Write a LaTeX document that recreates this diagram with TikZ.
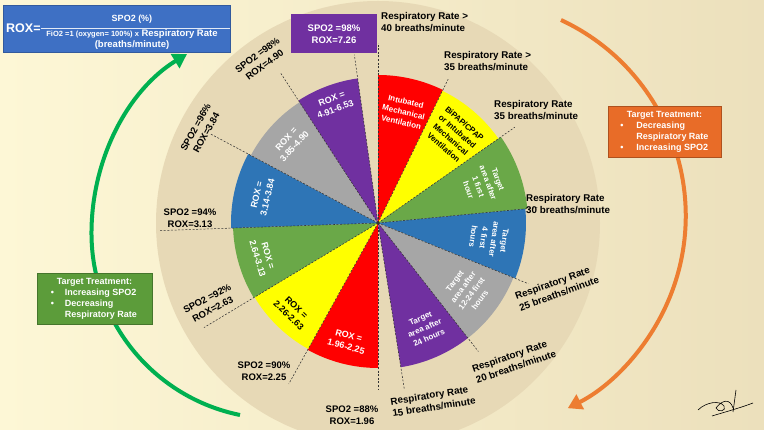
\documentclass[tikz,border=0pt]{standalone}
\usepackage{fontspec}
\setmainfont{Liberation Sans}
\usetikzlibrary{positioning,arrows.meta,shadows}

\definecolor{bgleft}{RGB}{253,247,214}
\definecolor{bgright}{RGB}{236,224,188}
\definecolor{disc}{RGB}{231,217,182}
\definecolor{wred}{RGB}{255,0,0}
\definecolor{wyellow}{RGB}{255,255,0}
\definecolor{wgreen}{RGB}{106,168,72}
\definecolor{wblue}{RGB}{46,117,182}
\definecolor{wgray}{RGB}{166,166,166}
\definecolor{wpurple}{RGB}{112,48,160}
\definecolor{formblue}{RGB}{62,112,196}
\definecolor{boxgreen}{RGB}{92,156,58}
\definecolor{boxorange}{RGB}{232,108,40}
\definecolor{arcgreen}{RGB}{0,176,80}
\definecolor{arcorange}{RGB}{237,125,49}

\tikzset{
  slice text/.style={font=\fontsize{8}{10.5}\selectfont\bfseries, align=center, inner sep=0pt},
  rox text/.style={font=\fontsize{9}{11}\selectfont\bfseries, align=center, inner sep=0pt},
  rate label/.style={font=\fontsize{9.8}{12}\selectfont\bfseries, align=left, inner sep=0pt},
  spo label/.style={font=\fontsize{9.5}{12}\selectfont\bfseries, align=center, inner sep=0pt},
  limit line/.style={black!80, line width=0.55pt, dash pattern=on 2pt off 1.6pt},
  treat box/.style={fill=#1, draw=#1!75!black, line width=0.4pt, text=white, inner sep=0pt,
    minimum height=51pt, font=\fontsize{9}{11}\selectfont\bfseries,
    drop shadow={opacity=0.3, shadow xshift=1pt, shadow yshift=-1pt}},
  cycle arrow/.style={draw=#1, line width=4pt, -{Triangle[length=14pt, width=16pt]}},
}

\begin{document}
\begin{tikzpicture}[x=1pt, y=1pt]
  \useasboundingbox (0,0) rectangle (764,430);
  \clip (0,0) rectangle (764,430);

  % background and disc
  \shade[left color=bgleft, right color=bgright] (0,0) rectangle (764,430);
  \coordinate (ctr) at (378,207);
  \fill[disc] (ctr) circle[radius=222];

  % slices
  \foreach \from/\to/\rad/\col in {64/90/148/wred, 35/64/147/wyellow, 5.5/35/150/wgreen,
      -22/5.5/148/wblue, -52/-22/146/wgray, -81/-52/146/wpurple,
      241/270/145/wred, 211/241/144/wyellow, 182/211/145/wgreen,
      152/182/147/wblue, 123/152/144/wgray, 98/123/146/wpurple}
    \fill[\col] (ctr) -- ++(\from:\rad) arc[start angle=\from, end angle=\to, radius=\rad] -- cycle;

  % limit lines
  \foreach \ang/\len/\nm in {90/180/rr40, 64/160/rr35a, 35/167/rr35, 5.5/160/rr30,
      -22/162/rr25, -52/163/rr20, -81/169/rr15,
      -90/167/sp88, 241/184/sp90, 211/203/sp92, 182/218/sp94,
      152/190/sp96, 123/179/sp98, 98/170/sp98box}{
    \path (ctr) ++(\ang:\len) coordinate (\nm);
    \draw[limit line] (ctr) -- (\nm);
  }

  % slice texts, right half
  \foreach \ang/\len/\rot/\tcol/\txt [count=\i] in {
      77/114/-13/white/{Intubated\\Mechanical\\Ventilation},
      49/116/-41/black/{BiPAP/CPAP\\or Intubated\\Mechanical\\Ventilation},
      20/112/-70/white/{Target\\area after\\1 first\\hour},
      -8/112/-98/white/{Target\\area after\\4 first\\hours},
      -37/112/53/white/{Target\\area after\\12-24 first\\hours},
      -66/115/24/white/{Target\\area after\\24 hours}}
    \path (ctr) ++(\ang:\len) node[slice text, text=\tcol, rotate=\rot] (target\i) {\txt};

  % slice texts, left half
  \foreach \ang/\len/\rot/\tcol/\txt [count=\i] in {
      255.5/122/-15/white/{ROX =\\1.96-2.25},
      226/123/-44/black/{ROX =\\2.26-2.63},
      196.5/120/-73.5/white/{ROX =\\2.64-3.13},
      167/119/77/white/{ROX =\\3.14-3.84},
      137.5/119/47.5/white/{ROX =\\3.85-4.90},
      110.5/127/20.5/white/{ROX =\\4.91-6.53}}
    \path (ctr) ++(\ang:\len) node[rox text, text=\tcol, rotate=\rot] (rox\i) {\txt};

  % respiratory rate labels
  \node[rate label, anchor=west] (rate40) at (381,408) {Respiratory Rate >\\40 breaths/minute};
  \node[rate label, anchor=west] (rate35a) at (444,369) {Respiratory Rate >\\35 breaths/minute};
  \node[rate label, anchor=west] (rate35) at (494,320) {Respiratory Rate\\35 breaths/minute};
  \node[rate label, anchor=west] (rate30) at (526,226) {Respiratory Rate\\30 breaths/minute};
  \node[rate label, rotate=20] (rate25) at (557,142) {Respiratory Rate\\25 breaths/minute};
  \node[rate label, rotate=19] (rate20) at (514,69) {Respiratory Rate\\20 breaths/minute};
  \node[rate label, rotate=9] (rate15) at (433,29) {Respiratory Rate\\15 breaths/minute};

  % SPO2 labels
  \node[spo label] (spo88) at (352,15) {SPO2 =88\%\\ROX=1.96};
  \node[spo label] (spo90) at (264,59) {SPO2 =90\%\\ROX=2.25};
  \node[spo label, rotate=28] (spo92) at (210,126) {SPO2 =92\%\\ROX=2.63};
  \node[spo label] (spo94) at (190,212) {SPO2 =94\%\\ROX=3.13};
  \node[spo label, rotate=61] (spo96) at (201,300) {SPO2 =96\%\\ROX=3.84};
  \node[spo label, rotate=37] (spo98) at (261,370) {SPO2 =98\%\\ROX=4.90};
  \node[spo label, fill=wpurple, text=white, minimum width=86pt, minimum height=39pt]
    (spo98box) at (334,396) {SPO2 =98\%\\ROX=7.26};

  % ROX formula
  \node[fill=formblue, draw=formblue!80!black, minimum width=227pt, minimum height=47pt,
    drop shadow={opacity=0.3, shadow xshift=1pt, shadow yshift=-1pt}] (formula) at (116.5,401.5) {};
  \node[anchor=west, text=white, font=\fontsize{12.5}{14}\selectfont\bfseries, inner sep=0pt]
    (roxeq) at (6,402) {ROX=};
  \node[text=white, font=\fontsize{9}{11}\selectfont\bfseries, inner sep=0pt] (numer) at (132,411) {SPO2 (\%)};
  \node[text=white, font=\fontsize{9.5}{11}\selectfont\bfseries, align=center, inner sep=0pt]
    (denom) at (132,390) {{\fontsize{7.5}{11}\selectfont FiO2 =1 (oxygen= 100\%) x} Respiratory Rate\\(breaths/minute)};
  \draw[white!85!formblue, line width=0.6pt] (roxeq.east) -- (roxeq.east -| formula.east);

  % treatment cycle arrows
  \coordinate (gstart) at (240,15);
  \draw[cycle arrow=arcgreen] (gstart) arc[start angle=258.5, end angle=180, radius=185.5]
    arc[start angle=180, end angle=119, x radius=185.5, y radius=205];
  \coordinate (ostart) at (561,410);
  \draw[cycle arrow=arcorange] (ostart) arc[start angle=65, end angle=-63, radius=216];

  \node[treat box=boxgreen, minimum width=115pt] (greenbox) at (94.5,131.5) {%
    \begin{tabular}{@{}p{14pt}@{}l@{}}
      \multicolumn{2}{c}{Target Treatment:}\\
      \textbullet & Increasing SPO2\\
      \textbullet & Decreasing\\
                  & Respiratory Rate
    \end{tabular}};
  \node[treat box=boxorange, minimum width=113pt] (orangebox) at (664.5,298.5) {%
    \begin{tabular}{@{}p{16pt}@{}l@{}}
      \multicolumn{2}{c}{Target Treatment:}\\
      \textbullet & Decreasing\\
                  & Respiratory Rate\\
      \textbullet & Increasing SPO2
    \end{tabular}};

  % signature
  \draw[line width=0.6pt] (698,20) .. controls (706,28) and (720,30) .. (724,24)
    .. controls (727,19) and (718,17) .. (716,22) .. controls (722,30) and (730,32) .. (733,22);
  \draw[line width=0.6pt] (712,14) .. controls (725,18) and (740,22) .. (753,27);
  \draw[line width=0.6pt] (736,40) -- (733,18);
\end{tikzpicture}
\end{document}
